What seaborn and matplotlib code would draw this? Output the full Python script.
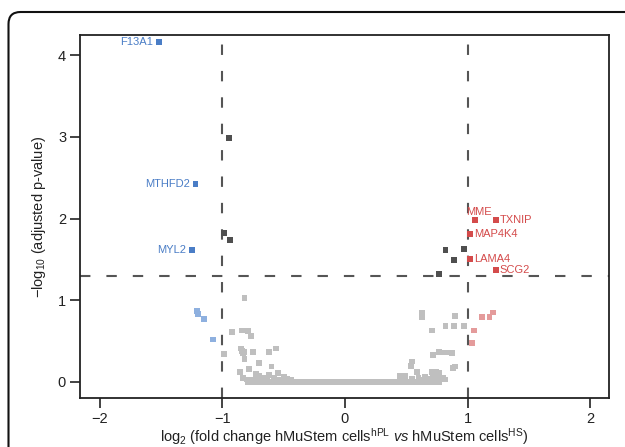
import numpy as np
import pandas as pd
import matplotlib
matplotlib.use("Agg")
import matplotlib.pyplot as plt
import seaborn as sns
from matplotlib.patches import FancyBboxPatch
from matplotlib.transforms import IdentityTransform

# ---------------- data ----------------
# significant, down-regulated (labelled, blue)
down_genes = ["F13A1", "MTHFD2", "MYL2"]
down_x = [-1.52, -1.22, -1.25]
down_y = [4.16, 2.42, 1.62]

# significant, up-regulated (labelled, red)
up_genes = ["MME", "TXNIP", "MAP4K4", "LAMA4", "SCG2"]
up_x = [1.06, 1.23, 1.02, 1.02, 1.23]
up_y = [1.98, 1.98, 1.81, 1.50, 1.37]

# significant but |log2FC| < 1 (dark grey)
sigsmall_x = [-0.95, -0.99, -0.94, 0.82, 0.97, 0.89, 0.77]
sigsmall_y = [2.98, 1.82, 1.74, 1.62, 1.63, 1.49, 1.32]

# |log2FC| > 1 but not significant
fcdown_x = [-1.21, -1.20, -1.15, -1.075]
fcdown_y = [0.87, 0.83, 0.77, 0.52]
fcup_x = [1.05, 1.04, 1.12, 1.18, 1.21]
fcup_y = [0.63, 0.48, 0.80, 0.80, 0.85]

# not significant (light grey)
ns_x = [-0.82, -0.92, -0.84, -0.81, -0.79, -0.77, -0.99, -0.85, -0.84, -0.82, -0.83,
        -0.75, -0.62, -0.56, -0.82, -0.70, -0.86, -0.78, -0.60,
        -0.73, -0.70, -0.66, -0.62, -0.58, -0.55, -0.50, -0.47, -0.83, -0.80,
        -0.76, -0.72, -0.68, -0.64, -0.53, -0.44,
        0.63, 0.63, 0.90, 0.71, 0.82, 0.89, 0.97, 0.72, 0.77, 0.80, 0.84, 0.87,
        0.55, 0.54, 0.88, 0.90, 0.59, 0.71, 0.74, 0.77, 0.45, 0.49,
        0.60, 0.65, 0.68, 0.72, 0.76, 0.80, 0.82, 0.55, 0.70, 0.74, 0.78, 0.62]
ns_y = [1.03, 0.61, 0.63, 0.63, 0.62, 0.56, 0.34, 0.41, 0.38, 0.37, 0.35,
        0.37, 0.37, 0.41, 0.28, 0.23, 0.12, 0.16, 0.19,
        0.10, 0.07, 0.05, 0.09, 0.05, 0.11, 0.06, 0.04, 0.05, 0.03,
        0.03, 0.04, 0.03, 0.04, 0.03, 0.02,
        0.85, 0.80, 0.81, 0.63, 0.68, 0.68, 0.68, 0.33, 0.37, 0.36, 0.36, 0.35,
        0.25, 0.20, 0.17, 0.19, 0.12, 0.12, 0.12, 0.11, 0.07, 0.07,
        0.05, 0.06, 0.04, 0.08, 0.06, 0.05, 0.03, 0.04, 0.03, 0.04, 0.03, 0.03]
# dense band of genes at -log10(p) ~ 0
band_x = [-0.79, -0.76, -0.73, -0.70, -0.67, -0.64, -0.61, -0.58, -0.55, -0.52,
          -0.49, -0.46, -0.43, -0.40, -0.37, -0.34, -0.31, -0.28, -0.25, -0.22,
          -0.19, -0.16, -0.13, -0.10, -0.07, -0.04, -0.01, 0.02, 0.05, 0.08,
          0.11, 0.14, 0.17, 0.20, 0.23, 0.26, 0.29, 0.32, 0.35, 0.38, 0.41,
          0.44, 0.47, 0.50, 0.53, 0.56, 0.59, 0.62, 0.65, 0.68, 0.71, 0.74, 0.77]
band_y = [0.0] * len(band_x)

palette = {"ns": "#bfbfbf", "fcdown": "#8eb0df", "fcup": "#e49b9b",
           "sigsmall": "#4f4f4f", "down": "#4a7dc6", "up": "#d44b4b"}

frames = [
    pd.DataFrame({"x": band_x, "y": band_y, "g": "ns"}),
    pd.DataFrame({"x": ns_x, "y": ns_y, "g": "ns"}),
    pd.DataFrame({"x": fcdown_x, "y": fcdown_y, "g": "fcdown"}),
    pd.DataFrame({"x": fcup_x, "y": fcup_y, "g": "fcup"}),
    pd.DataFrame({"x": sigsmall_x, "y": sigsmall_y, "g": "sigsmall"}),
    pd.DataFrame({"x": down_x, "y": down_y, "g": "down"}),
    pd.DataFrame({"x": up_x, "y": up_y, "g": "up"}),
]
df = pd.concat(frames, ignore_index=True)

# ---------------- style ----------------
sns.set_theme(style="ticks")
plt.rcParams["font.family"] = ["Liberation Sans", "DejaVu Sans"]
plt.rcParams["mathtext.fontset"] = "custom"
plt.rcParams["mathtext.rm"] = "Liberation Sans"
plt.rcParams["mathtext.it"] = "Liberation Sans:italic"
plt.rcParams["mathtext.sf"] = "Liberation Sans"
plt.rcParams["lines.scale_dashes"] = False

fig = plt.figure(figsize=(6.25, 4.47), dpi=100)
ax = fig.add_axes([80 / 625, 1 - 398 / 447, 529 / 625, 363 / 447])

sns.scatterplot(data=df, x="x", y="y", hue="g", palette=palette, marker="s",
                s=18, linewidth=0, legend=False, ax=ax, zorder=3)

dash = (0, (7.5, 11.5))
for xv in (-1, 1):
    ax.axvline(xv, color="#555555", lw=1.5, linestyle=dash, zorder=2)
ax.axhline(-np.log10(0.05), color="#555555", lw=1.5, linestyle=dash, zorder=2)

ax.set_xlim(-2.163, 2.155)
ax.set_ylim(-0.196, 4.245)
ax.set_xticks([-2, -1, 0, 1, 2])
ax.set_xticklabels(["\u22122", "\u22121", "0", "1", "2"])
ax.set_yticks([0, 1, 2, 3, 4])
for s in ax.spines.values():
    s.set_visible(True)
    s.set_linewidth(1.3)
    s.set_color("#222222")
ax.tick_params(axis="both", direction="out", length=7, width=1.2,
               labelsize=10.5, colors="#222222", pad=3)

ax.set_xlabel("log$_\\mathregular{2}$ (fold change hMuStem cells$^\\mathregular{hPL}$ "
              "$\\mathit{vs}$ hMuStem cells$^\\mathregular{HS}$)", fontsize=10.5,
              color="#222222", labelpad=0)
ax.set_ylabel("\u2212log$_\\mathregular{10}$ (adjusted p-value)", fontsize=10.5,
              color="#222222", labelpad=7)

# gene labels
for g, x, y in zip(down_genes, down_x, down_y):
    ax.annotate(g, (x, y), xytext=(-4, 0), textcoords="offset points",
                ha="right", va="center", fontsize=8, color=palette["down"])
for g, x, y in zip(up_genes, up_x, up_y):
    if g == "MME":
        ax.annotate(g, (x, y), xytext=(-6, 6), textcoords="offset points",
                    ha="left", va="center", fontsize=8, color=palette["up"])
    else:
        ax.annotate(g, (x, y), xytext=(3, 0), textcoords="offset points",
                    ha="left", va="center", fontsize=8, color=palette["up"])

# outer rounded frame (cropped card border)
frame = FancyBboxPatch((8.5, -30), 700, 447 - 12 + 30, boxstyle="round,pad=0,rounding_size=12",
                       transform=IdentityTransform(), fill=False, edgecolor="#111111",
                       linewidth=1.5)
fig.patches.append(frame)

fig.savefig("out.png", dpi=100)
